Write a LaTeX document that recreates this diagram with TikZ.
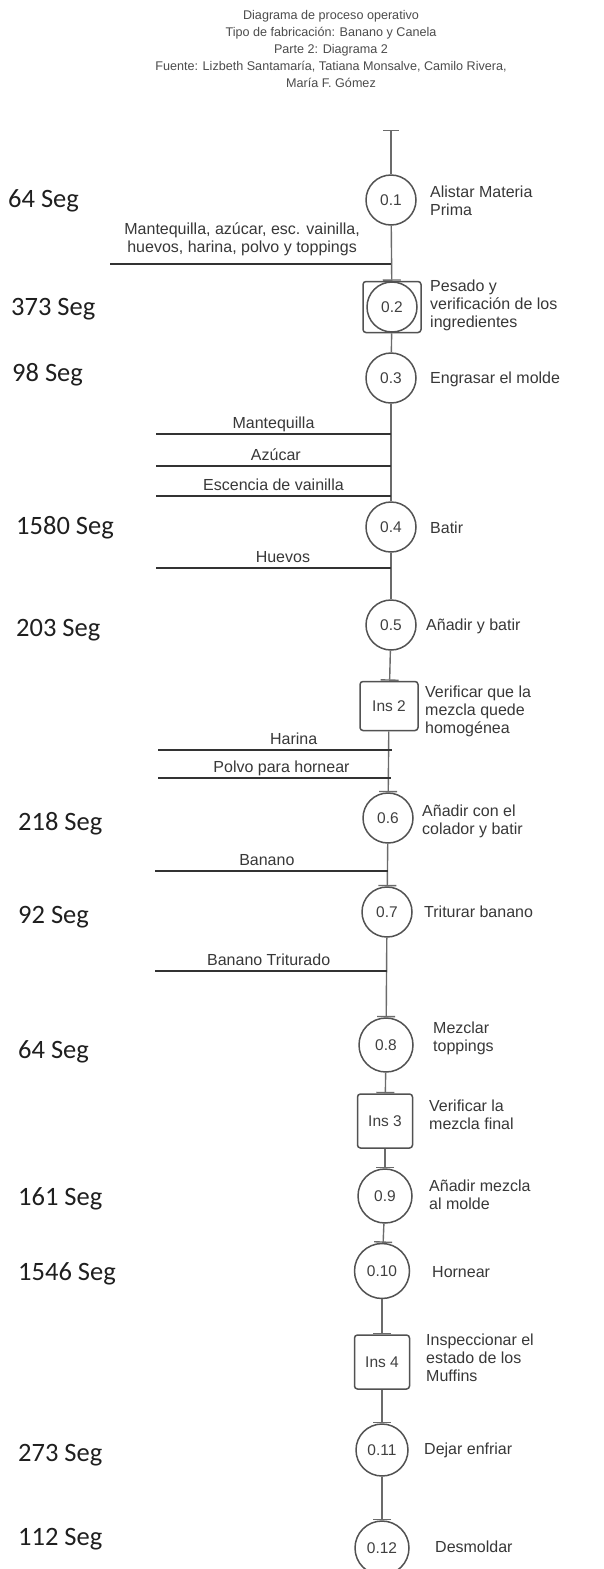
\documentclass[tikz,border=0pt]{standalone}
\usepackage{fontspec}
\setmainfont{Liberation Sans}
\newfontfamily\calibrifont{Carlito}
\usetikzlibrary{arrows.meta}

\begin{document}
\begin{tikzpicture}[
        x=1pt, y=-1pt,
        opcirc/.style={draw=black!68, line width=1.5pt, circle, minimum size=50pt, inner sep=1pt, text=black!75, font=\fontsize{15.5}{17}\selectfont},
        insbox/.style={draw=black!68, line width=1.5pt, rectangle, rounded corners=3pt, minimum width=56pt, minimum height=52pt, inner sep=1pt, text=black!75, font=\fontsize{15.5}{17}\selectfont},
        flow/.style={draw=black!58, line width=1.4pt},
        tee/.style={flow, -{Bar[width=18pt]}},
        feed/.style={draw=black!80, line width=1.7pt}
        ]
    % Define styles
    \tikzstyle{desc} = [anchor=west, align=left, inner sep=0pt, text=black!78, font=\fontsize{16}{18}\selectfont]
    \tikzstyle{secs} = [anchor=west, inner sep=0pt, text=black!88, font=\calibrifont\fontsize{26.5}{28}\selectfont]
    \tikzstyle{mat} = [above, align=center, inner sep=1pt, text depth=3.5pt, text=black!78, font=\fontsize{16}{18}\selectfont]

    \path[fill=white, use as bounding box] (0,0) rectangle (604,1569);

    % Title
    \node[align=center, text=black!70, font=\fontsize{12.6}{17}\selectfont] (title) at (331,49)
        {Diagrama de proceso operativo\\Tipo de fabricación: Banano y Canela\\Parte 2: Diagrama 2\\Fuente: Lizbeth Santamaría, Tatiana Monsalve, Camilo Rivera,\\María F. Gómez};

    % Define operation and inspection nodes
    \coordinate (top) at (391,130);
    \node[opcirc] (p1) at (391,200) {0.1};
    \node[insbox, minimum width=58pt, minimum height=51pt] (p2box) at (392,307) {};
    \node[opcirc] (p2) at (392,307) {0.2};
    \node[opcirc] (p3) at (391,378) {0.3};
    \node[opcirc] (p4) at (391,527) {0.4};
    \node[opcirc] (p5) at (391,625) {0.5};
    \node[insbox, minimum width=58pt, minimum height=49pt] (ins2) at (389,706) {Ins 2};
    \node[opcirc] (p6) at (388,818) {0.6};
    \node[opcirc] (p7) at (387,912) {0.7};
    \node[opcirc, minimum size=54pt] (p8) at (386,1045) {0.8};
    \node[insbox, minimum width=55pt, minimum height=54pt] (ins3) at (385,1121) {Ins 3};
    \node[opcirc, minimum size=54pt] (p9) at (385,1196) {0.9};
    \node[opcirc, minimum size=55pt] (p10) at (382,1271) {0.10};
    \node[insbox, minimum width=55pt, minimum height=54pt] (ins4) at (382,1362) {Ins 4};
    \node[opcirc, minimum size=52pt] (p11) at (382,1450) {0.11};
    \node[opcirc, minimum size=54pt] (p12) at (382,1548) {0.12};

    % Define descriptions
    \node[desc] (d1) at (430,201) {Alistar Materia\\Prima};
    \node[desc] (d2) at (430,305) {Pesado y\\verificación de los\\ingredientes};
    \node[desc] (d3) at (430,379) {Engrasar el molde};
    \node[desc] (d4) at (430,528) {Batir};
    \node[desc] (d5) at (426,626) {Añadir y batir};
    \node[desc] (d6) at (425,711) {Verificar que la\\mezcla quede\\homogénea};
    \node[desc] (d7) at (422,821) {Añadir con el\\colador y batir};
    \node[desc] (d8) at (424,912) {Triturar banano};
    \node[desc] (d9) at (433,1038) {Mezclar\\toppings};
    \node[desc] (d10) at (429,1115) {Verificar la\\mezcla final};
    \node[desc] (d11) at (429,1195) {Añadir mezcla\\al molde};
    \node[desc] (d12) at (432,1272) {Hornear};
    \node[desc] (d13) at (426,1358) {Inspeccionar el\\estado de los\\Muffins};
    \node[desc] (d14) at (424,1450) {Dejar enfriar};
    \node[desc] (d15) at (435,1547) {Desmoldar};

    % Define time labels
    \node[secs] (t1) at (8,201) {64 Seg};
    \node[secs] (t2) at (11,309) {373 Seg};
    \node[secs] (t3) at (12,375) {98 Seg};
    \node[secs] (t4) at (16,528) {1580 Seg};
    \node[secs] (t5) at (16,630) {203 Seg};
    \node[secs] (t6) at (18,824) {218 Seg};
    \node[secs] (t7) at (18,917) {92 Seg};
    \node[secs] (t8) at (18,1052) {64 Seg};
    \node[secs] (t9) at (18,1199) {161 Seg};
    \node[secs] (t10) at (18,1274) {1546 Seg};
    \node[secs] (t11) at (18,1455) {273 Seg};
    \node[secs] (t12) at (18,1539) {112 Seg};

    % Define material input ends
    \coordinate (m1) at (110,264);  \coordinate (m1e) at (391,264);
    \coordinate (m2) at (156,434);  \coordinate (m2e) at (391,434);
    \coordinate (m3) at (156,466);  \coordinate (m3e) at (391,466);
    \coordinate (m4) at (156,496);  \coordinate (m4e) at (391,496);
    \coordinate (m5) at (156,568);  \coordinate (m5e) at (391,568);
    \coordinate (m6) at (158,750);  \coordinate (m6e) at (392,750);
    \coordinate (m7) at (158,778);  \coordinate (m7e) at (391,778);
    \coordinate (m8) at (155,871);  \coordinate (m8e) at (388,871);
    \coordinate (m9) at (155,971);  \coordinate (m9e) at (387,971);

    % Draw the main flow line
    \draw[flow, {Bar[width=16pt]}-] (top) -- (p1);
    \draw[tee] (p1) -- (p2box);
    \draw[flow] (p2box) -- (p3);
    \draw[flow] (p3) -- (p4);
    \draw[flow] (p4) -- (p5);
    \draw[tee] (p5) -- (ins2);
    \draw[tee] (ins2) -- (p6);
    \draw[tee] (p6) -- (p7);
    \draw[tee] (p7) -- (p8);
    \draw[tee] (p8) -- (ins3);
    \draw[tee] (ins3) -- (p9);
    \draw[tee] (p9) -- (p10);
    \draw[tee] (p10) -- (ins4);
    \draw[tee] (ins4) -- (p11);
    \draw[tee] (p11) -- (p12);

    % Draw material inputs
    \draw[feed] (m1) -- node[mat, pos=.47, yshift=6.5pt] {Mantequilla, azúcar, esc. vainilla,\\huevos, harina, polvo y toppings} (m1e);
    \draw[feed] (m2) -- node[mat, pos=.50] {Mantequilla} (m2e);
    \draw[feed] (m3) -- node[mat, pos=.51] {Azúcar} (m3e);
    \draw[feed] (m4) -- node[mat, pos=.50] {Escencia de vainilla} (m4e);
    \draw[feed] (m5) -- node[mat, pos=.54] {Huevos} (m5e);
    \draw[feed] (m6) -- node[mat, pos=.58] {Harina} (m6e);
    \draw[feed] (m7) -- node[mat, pos=.53] {Polvo para hornear} (m7e);
    \draw[feed] (m8) -- node[mat, pos=.48] {Banano} (m8e);
    \draw[feed] (m9) -- node[mat, pos=.49] {Banano Triturado} (m9e);

\end{tikzpicture}
\end{document}
